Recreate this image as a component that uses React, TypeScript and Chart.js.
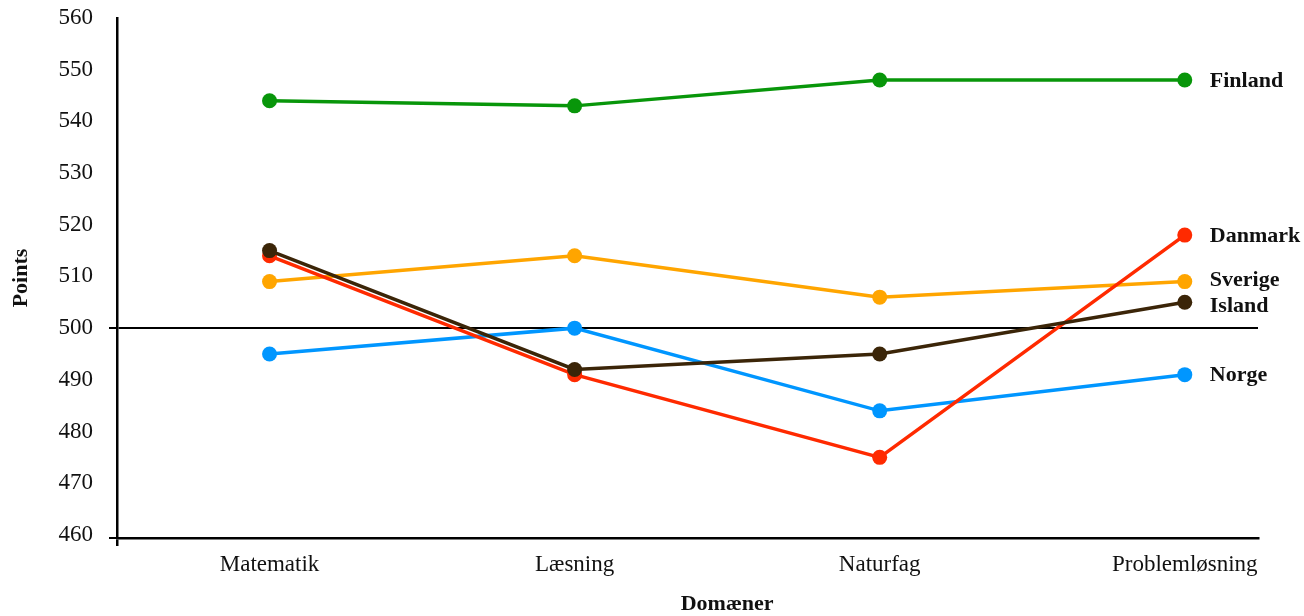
import { useEffect, useRef } from 'react';
import { Chart, registerables } from 'chart.js';

Chart.register(...registerables);

// PISA domain scores for the Nordic countries
const domains = ['Matematik', 'Læsning', 'Naturfag', 'Problemløsning'];
const finland = [544, 543, 548, 548];
const danmark = [514, 491, 475, 518];
const sverige = [509, 514, 506, 509];
const island = [515, 492, 495, 505];
const norge = [495, 500, 484, 491];
const yTickValues = [460, 470, 480, 490, 500, 510, 520, 530, 540, 550, 560];
const referenceLevel = 500;

const FONT = "'Liberation Serif', 'DejaVu Serif', serif";
const W = 1304;
const H = 616;
const PLOT_LEFT = 117;
const PLOT_RIGHT = 1258;
const PLOT_TOP = 18;
const PLOT_BOTTOM = 538;
const X_MIN = -0.5;
const X_MAX = 3.24;
const Y_MIN = 459.4;
const Y_MAX = 560;

const series = [
  { label: 'Island', values: island, color: '#3b2508' },
  { label: 'Danmark', values: danmark, color: '#ff2a00' },
  { label: 'Finland', values: finland, color: '#08960a' },
  { label: 'Sverige', values: sverige, color: '#ffa500' },
  { label: 'Norge', values: norge, color: '#0096ff' },
];

// Country names written next to the last point of each line, nudged apart when close
const endLabels = {
  id: 'endLabels',
  afterDatasetsDraw(chart: any) {
    const ctx = chart.ctx;
    const items = chart.data.datasets.map((ds: any, i: number) => {
      const meta = chart.getDatasetMeta(i);
      const pt = meta.data[meta.data.length - 1];
      return { text: ds.label, x: pt.x + 25, y: pt.y };
    });
    items.sort((a: any, b: any) => a.y - b.y);
    const gap = 26;
    for (let iter = 0; iter < 20; iter++) {
      for (let k = 1; k < items.length; k++) {
        const d = items[k].y - items[k - 1].y;
        if (d < gap) {
          const s = (gap - d) / 2;
          items[k - 1].y -= s;
          items[k].y += s;
        }
      }
    }
    ctx.save();
    ctx.font = `bold 22px ${FONT}`;
    ctx.fillStyle = '#111';
    ctx.textAlign = 'left';
    ctx.textBaseline = 'middle';
    items.forEach((it: any) => ctx.fillText(it.text, it.x, it.y + 1));
    ctx.restore();
  },
};

// Axis titles: "Points" centred on the plot height, "Domæner" centred between the outer categories
const axisTitles = {
  id: 'axisTitles',
  afterDraw(chart: any) {
    const ctx = chart.ctx;
    const xs = chart.scales.x;
    const area = chart.chartArea;
    ctx.save();
    ctx.font = `bold 22px ${FONT}`;
    ctx.fillStyle = '#111';
    ctx.textAlign = 'center';
    ctx.textBaseline = 'middle';
    const cx = (xs.getPixelForValue(0) + xs.getPixelForValue(domains.length - 1)) / 2;
    ctx.fillText('Domæner', cx, 604);
    ctx.translate(21, (area.top + area.bottom) / 2);
    ctx.rotate(-Math.PI / 2);
    ctx.fillText('Points', 0, 0);
    ctx.restore();
  },
};

export default function App() {
  const canvasRef = useRef<HTMLCanvasElement | null>(null);

  useEffect(() => {
    if (!canvasRef.current) return;
    const chart = new Chart(canvasRef.current, {
      type: 'line',
      data: {
        datasets: series.map((s) => ({
          label: s.label,
          data: s.values.map((v, i) => ({ x: i, y: v })),
          borderColor: s.color,
          backgroundColor: s.color,
          borderWidth: 3.5,
          pointRadius: 7.5,
          pointBorderWidth: 0,
          pointBackgroundColor: s.color,
          tension: 0,
          fill: false,
        })),
      },
      options: {
        responsive: false,
        animation: false,
        layout: { padding: { left: 0, right: W - PLOT_RIGHT, top: PLOT_TOP, bottom: 0 } },
        plugins: {
          legend: { display: false },
          tooltip: { enabled: false },
        },
        scales: {
          x: {
            type: 'linear',
            min: X_MIN,
            max: X_MAX,
            afterBuildTicks: (scale: any) => {
              scale.ticks = [{ value: X_MIN }, ...domains.map((_, i) => ({ value: i }))];
            },
            afterFit: (scale: any) => {
              scale.height = H - PLOT_BOTTOM;
              scale.paddingLeft = 0;
              scale.paddingRight = 0;
            },
            ticks: {
              autoSkip: false,
              maxRotation: 0,
              padding: 5,
              color: '#111',
              font: { family: FONT, size: 23 },
              callback: (v: any) => (Number.isInteger(v) ? domains[v] : ''),
            },
            grid: {
              drawOnChartArea: false,
              tickLength: 8,
              lineWidth: 2.5,
              color: (c: any) => (c.tick && c.tick.value === X_MIN ? '#000' : 'rgba(0,0,0,0)'),
            },
            border: { display: true, color: '#000', width: 2.5 },
          },
          y: {
            type: 'linear',
            min: Y_MIN,
            max: Y_MAX,
            afterBuildTicks: (scale: any) => {
              scale.ticks = [{ value: Y_MIN }, ...yTickValues.map((v) => ({ value: v }))];
            },
            afterFit: (scale: any) => {
              scale.width = PLOT_LEFT;
              scale.paddingTop = 0;
              scale.paddingBottom = 0;
            },
            ticks: {
              autoSkip: false,
              padding: 16,
              color: '#111',
              font: { family: FONT, size: 23 },
              callback: (v: any) => (yTickValues.includes(v) ? String(v) : ''),
            },
            grid: {
              drawOnChartArea: true,
              tickLength: 8,
              lineWidth: 2,
              color: (c: any) =>
                c.tick && (c.tick.value === referenceLevel || c.tick.value === Y_MIN)
                  ? '#000'
                  : 'rgba(0,0,0,0)',
            },
            border: { display: true, color: '#000', width: 2.5 },
          },
        },
      },
      plugins: [endLabels, axisTitles],
    });
    return () => chart.destroy();
  }, []);

  return (
    <div style={{ position: 'absolute', left: 0, top: 0, width: W, height: H, background: '#fff' }}>
      <canvas ref={canvasRef} width={W} height={H} style={{ display: 'block' }} />
    </div>
  );
}
